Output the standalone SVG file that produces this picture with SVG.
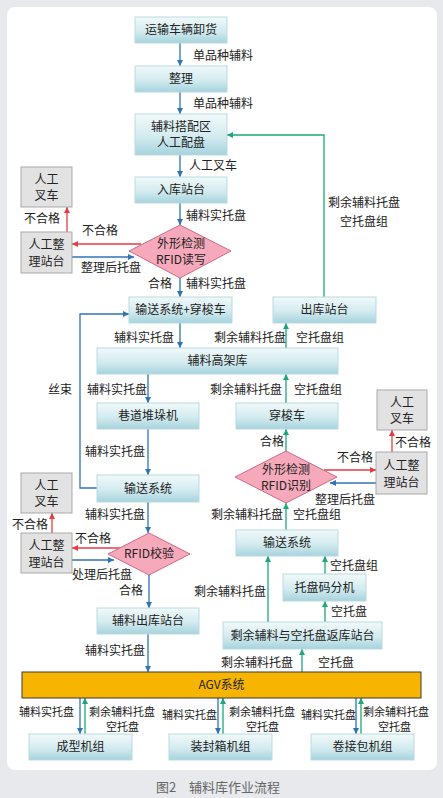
<svg xmlns="http://www.w3.org/2000/svg" width="443" height="798" viewBox="0 0 443 798">
<defs>
<linearGradient id="gn" x1="0" y1="0" x2="0" y2="1">
<stop offset="0" stop-color="#f1f9fa"/>
<stop offset="0.55" stop-color="#d3ebef"/>
<stop offset="1" stop-color="#a6d3dd"/>
</linearGradient>
<marker id="ab" viewBox="0 0 10 10" refX="10" refY="5" markerWidth="6" markerHeight="6" markerUnits="userSpaceOnUse" orient="auto"><path d="M0,0 L10,5 L0,10 z" fill="#2f74b5"/></marker>
<marker id="ar" viewBox="0 0 10 10" refX="10" refY="5" markerWidth="6" markerHeight="6" markerUnits="userSpaceOnUse" orient="auto"><path d="M0,0 L10,5 L0,10 z" fill="#e83a44"/></marker>
<marker id="ag" viewBox="0 0 10 10" refX="10" refY="5" markerWidth="6" markerHeight="6" markerUnits="userSpaceOnUse" orient="auto"><path d="M0,0 L10,5 L0,10 z" fill="#1fa67a"/></marker>
</defs>
<style>
text{font-family:"Noto Sans CJK SC","Noto Sans",sans-serif;fill:#222;}
.t{font-size:12px;text-anchor:middle;}
.l{font-size:12px;}
.s{font-size:11px;}
.box{fill:url(#gn);stroke:#b9dbe2;stroke-width:1;}
.gry{fill:#e2e2e2;stroke:#a9a9a9;stroke-width:1;}
.dia{fill:#f6a9ba;stroke:#cf6a86;stroke-width:1;}
.cb{fill:none;stroke:#2f74b5;stroke-width:1.3;marker-end:url(#ab);}
.cr{fill:none;stroke:#e83a44;stroke-width:1.3;marker-end:url(#ar);}
.cg{fill:none;stroke:#1fa67a;stroke-width:1.3;marker-end:url(#ag);}
</style>
<rect x="0" y="0" width="443" height="798" fill="#e7e9ec"/>
<rect x="7" y="7" width="430" height="763" rx="8" fill="#ffffff"/>

<g id="connectors">
<path class="cb" d="M180 43 V66"/>
<path class="cb" d="M180 92 V114"/>
<path class="cb" d="M180 155 V177"/>
<path class="cb" d="M180 203 V225"/>
<path class="cb" d="M180 278 V297"/>
<path class="cb" d="M180 323 V348"/>
<path class="cb" d="M148 374 V403"/>
<path class="cb" d="M148 429 V475"/>
<path class="cb" d="M148 502 V533"/>
<path class="cb" d="M149 575 V608"/>
<path class="cb" d="M148 634 V672"/>
<path class="cb" d="M97 488 H80 V314 H129"/>
<path class="cr" d="M141 244 H72"/>
<path class="cb" d="M72 257 H134"/>
<path class="cr" d="M67 232 V207"/>
<path class="cr" d="M120 548 H72"/>
<path class="cb" d="M72 560 H114"/>
<path class="cr" d="M52 533 V513"/>
<path class="cr" d="M324 470 H376"/>
<path class="cb" d="M376 483 H330"/>
<path class="cr" d="M392 452 V430"/>
<path class="cg" d="M324 297 V135 H227"/>
<path class="cg" d="M286 348 V323"/>
<path class="cg" d="M286 403 V374"/>
<path class="cg" d="M286 451 V429"/>
<path class="cg" d="M286 530 V503"/>
<path class="cg" d="M268 622 V556"/>
<path class="cg" d="M325 574 V556"/>
<path class="cg" d="M325 622 V601"/>
<path class="cg" d="M302 672 V649"/>
<path class="cb" d="M80 698 V734"/>
<path class="cg" d="M85 734 V698"/>
<path class="cb" d="M218 698 V734"/>
<path class="cg" d="M223 734 V698"/>
<path class="cb" d="M356 698 V734"/>
<path class="cg" d="M361 734 V698"/>
</g>

<g id="labels">
<text class="l" x="193" y="60">单品种辅料</text>
<text class="l" x="193" y="108">单品种辅料</text>
<text class="l" x="189" y="170">人工叉车</text>
<text class="l" x="186" y="220">辅料实托盘</text>
<text class="l" x="328" y="207">剩余辅料托盘</text>
<text class="l" x="340" y="226">空托盘组</text>
<text class="l" x="24" y="223">不合格</text>
<text class="l" x="82" y="235">不合格</text>
<text class="l" x="81" y="272">整理后托盘</text>
<text class="l" x="148" y="288">合格</text>
<text class="l" x="186" y="288">辅料实托盘</text>
<text class="l" x="114" y="342">辅料实托盘</text>
<text class="l" x="214" y="342">剩余辅料托盘</text>
<text class="l" x="296" y="342">空托盘组</text>
<text class="l" x="48" y="394">丝束</text>
<text class="l" x="87" y="394">辅料实托盘</text>
<text class="l" x="210" y="394">剩余辅料托盘</text>
<text class="l" x="294" y="394">空托盘组</text>
<text class="l" x="85" y="456">辅料实托盘</text>
<text class="l" x="260" y="446">合格</text>
<text class="l" x="337" y="462">不合格</text>
<text class="l" x="395" y="447">不合格</text>
<text class="l" x="315" y="504">整理后托盘</text>
<text class="l" x="85" y="519">辅料实托盘</text>
<text class="l" x="211" y="519">剩余辅料托盘</text>
<text class="l" x="293" y="519">空托盘组</text>
<text class="l" x="12" y="529">不合格</text>
<text class="l" x="75" y="543">不合格</text>
<text class="l" x="72" y="579">处理后托盘</text>
<text class="l" x="119" y="595">合格</text>
<text class="l" x="330" y="570">空托盘组</text>
<text class="l" x="194" y="596">剩余辅料托盘</text>
<text class="l" x="331" y="616">空托盘</text>
<text class="l" x="85" y="655">辅料实托盘</text>
<text class="l" x="221" y="667">剩余辅料托盘</text>
<text class="l" x="318" y="667">空托盘</text>
<text class="s" x="19" y="716">辅料实托盘</text>
<text class="s" x="89" y="716">剩余辅料托盘</text>
<text class="s" x="106" y="731">空托盘</text>
<text class="s" x="162" y="719">辅料实托盘</text>
<text class="s" x="229" y="716">剩余辅料托盘</text>
<text class="s" x="246" y="731">空托盘</text>
<text class="s" x="301" y="719">辅料实托盘</text>
<text class="s" x="363" y="716">剩余辅料托盘</text>
<text class="s" x="378" y="731">空托盘</text>
</g>

<g id="n1"><rect class="box" x="135" y="17" width="92" height="26"/><text class="t" x="181" y="34">运输车辆卸货</text></g>
<g id="n2"><rect class="box" x="135" y="66" width="92" height="26"/><text class="t" x="181" y="83">整理</text></g>
<g id="n3"><rect class="box" x="135" y="114" width="92" height="41"/><text class="t" x="181" y="131">辅料搭配区</text><text class="t" x="181" y="147">人工配盘</text></g>
<g id="n4"><rect class="box" x="135" y="177" width="92" height="26"/><text class="t" x="181" y="194">入库站台</text></g>
<g id="d1"><polygon class="dia" points="129,251 180,225 231,251 180,278"/><text class="t" x="181" y="248">外形检测</text><text class="t" x="181" y="264">RFID读写</text></g>
<g id="g1"><rect class="gry" x="21" y="167" width="51" height="40"/><text class="t" x="46.5" y="184">人工</text><text class="t" x="46.5" y="200">叉车</text></g>
<g id="g2"><rect class="gry" x="21" y="232" width="51" height="41"/><text class="t" x="46.5" y="249">人工整</text><text class="t" x="46.5" y="266">理站台</text></g>
<g id="n5"><rect class="box" x="129" y="297" width="103" height="26"/><text class="t" x="180.5" y="314">输送系统+穿梭车</text></g>
<g id="n6"><rect class="box" x="273" y="297" width="103" height="26"/><text class="t" x="324.5" y="314">出库站台</text></g>
<g id="n7"><rect class="box" x="97" y="348" width="241" height="26"/><text class="t" x="217.5" y="365">辅料高架库</text></g>
<g id="n8"><rect class="box" x="97" y="403" width="102" height="26"/><text class="t" x="148" y="420">巷道堆垛机</text></g>
<g id="n9"><rect class="box" x="236" y="403" width="102" height="26"/><text class="t" x="287" y="420">穿梭车</text></g>
<g id="g3"><rect class="gry" x="377" y="390" width="50" height="40"/><text class="t" x="402" y="407">人工</text><text class="t" x="402" y="423">叉车</text></g>
<g id="n10"><rect class="box" x="97" y="475" width="102" height="27"/><text class="t" x="148" y="493">输送系统</text></g>
<g id="d2"><polygon class="dia" points="235,477 286,451 337,477 286,503"/><text class="t" x="286" y="474">外形检测</text><text class="t" x="286" y="490">RFID识别</text></g>
<g id="g4"><rect class="gry" x="376" y="452" width="51" height="42"/><text class="t" x="401.5" y="470">人工整</text><text class="t" x="401.5" y="487">理站台</text></g>
<g id="g5"><rect class="gry" x="21" y="473" width="51" height="40"/><text class="t" x="46.5" y="490">人工</text><text class="t" x="46.5" y="506">叉车</text></g>
<g id="g6"><rect class="gry" x="21" y="533" width="51" height="40"/><text class="t" x="46.5" y="550">人工整</text><text class="t" x="46.5" y="567">理站台</text></g>
<g id="d3"><polygon class="dia" points="108,554 149,533 190,554 149,575"/><text class="t" x="149" y="558">RFID校验</text></g>
<g id="n11"><rect class="box" x="236" y="530" width="102" height="26"/><text class="t" x="287" y="547">输送系统</text></g>
<g id="n12"><rect class="box" x="283" y="574" width="83" height="27"/><text class="t" x="324.5" y="592">托盘码分机</text></g>
<g id="n13"><rect class="box" x="97" y="608" width="102" height="26"/><text class="t" x="148" y="625">辅料出库站台</text></g>
<g id="n14"><rect class="box" x="223" y="622" width="159" height="27"/><text class="t" x="302.5" y="640">剩余辅料与空托盘返库站台</text></g>
<g id="agv"><rect x="22" y="672" width="399" height="26" fill="#f7b500" stroke="#3a3a3a" stroke-width="1"/><text class="t" x="221.5" y="689">AGV系统</text></g>
<g id="n15"><rect class="box" x="29" y="734" width="103" height="26"/><text class="t" x="80.5" y="751">成型机组</text></g>
<g id="n16"><rect class="box" x="169" y="734" width="103" height="26"/><text class="t" x="220.5" y="751">装封箱机组</text></g>
<g id="n17"><rect class="box" x="311" y="734" width="103" height="26"/><text class="t" x="362.5" y="751">卷接包机组</text></g>

<text x="218" y="792" style="font-size:13px;text-anchor:middle;fill:#666">图2　辅料库作业流程</text>
</svg>
